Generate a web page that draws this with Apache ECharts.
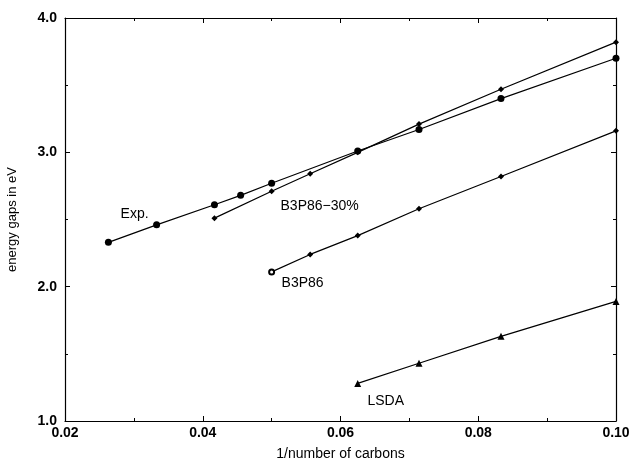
<!DOCTYPE html>
<html>
<head>
<meta charset="UTF-8">
<script src="https://cdn.jsdelivr.net/npm/echarts@6/dist/echarts.min.js"></script>
<style>
  html, body { margin: 0; padding: 0; background: #fff; }
  #chart { width: 633px; height: 461px; }
</style>
</head>
<body>
<div id="chart"></div>
<script>
// x = 1/number of carbons
const expX   = [0.0263, 0.0333, 0.0417, 0.0455, 0.050, 0.0625, 0.0714, 0.0833, 0.100];
const expY   = [2.33, 2.46, 2.61, 2.68, 2.77, 3.01, 3.17, 3.40, 3.70];
const b30X   = [0.0417, 0.050, 0.0556, 0.0625, 0.0714, 0.0833, 0.100];
const b30Y   = [2.51, 2.71, 2.84, 3.00, 3.21, 3.47, 3.82];
const b3X    = [0.050, 0.0556, 0.0625, 0.0714, 0.0833, 0.100];
const b3Y    = [2.11, 2.24, 2.38, 2.58, 2.82, 3.16];
const lsdaX  = [0.0625, 0.0714, 0.0833, 0.100];
const lsdaY  = [1.28, 1.43, 1.63, 1.89];

const chart = echarts.init(document.getElementById('chart'));
const font = '"Liberation Sans", Arial, Helvetica, sans-serif';

function pairs(xs, ys) { return xs.map((x, i) => [x, ys[i]]); }

// put a text label next to one point of a series
function tag(data, idx, text, offset) {
  data[idx] = {
    value: data[idx],
    label: { show: true, formatter: text, offset: offset, position: 'inside',
             color: '#000', fontSize: 14, fontFamily: font }
  };
  return data;
}

const expData  = tag(pairs(expX, expY), 1, 'Exp.', [-22, -11]);
const b30Data  = tag(pairs(b30X, b30Y), 1, 'B3P86\u221230%', [48, 15]);
const b3Data   = tag(pairs(b3X, b3Y), 0, 'B3P86', [31, 11]);
b3Data[0].symbol = 'emptyCircle';
b3Data[0].symbolSize = 5;
const lsdaData = tag(pairs(lsdaX, lsdaY), 0, 'LSDA', [28, 18]);

const lineBase = { type: 'line', lineStyle: { color: '#000', width: 1.2 },
                   itemStyle: { color: '#000' }, animation: false };

const axisCommon = {
  axisLine: { show: true, lineStyle: { color: '#000', width: 1.2 } },
  axisTick: { show: true, inside: true, length: 5, lineStyle: { color: '#000' } },
  minorTick: { show: true, splitNumber: 2, length: 3, lineStyle: { color: '#000' } },
  splitLine: { show: false }
};

chart.setOption({
  backgroundColor: '#fff',
  grid: { left: 65, right: 17, top: 18, bottom: 40, outerBoundsMode: 'none' },
  xAxis: [
    Object.assign({
      type: 'value', min: 0.02, max: 0.10, interval: 0.02,
      name: '1/number of carbons', nameLocation: 'middle', nameGap: 26,
      nameTextStyle: { color: '#000', fontSize: 14, fontFamily: font },
      axisLabel: { color: '#000', fontSize: 14, fontWeight: 'bold', fontFamily: font,
                   margin: 5, formatter: v => v.toFixed(2) }
    }, axisCommon),
    Object.assign({
      type: 'value', min: 0.02, max: 0.10, interval: 0.02, position: 'top',
      axisLabel: { show: false }
    }, axisCommon)
  ],
  yAxis: [
    Object.assign({
      type: 'value', min: 1.0, max: 4.0, interval: 1.0,
      name: 'energy gaps in eV', nameLocation: 'middle', nameGap: 46,
      nameTextStyle: { color: '#000', fontSize: 13, fontFamily: font },
      axisLabel: { color: '#000', fontSize: 14, fontWeight: 'bold', fontFamily: font,
                   margin: 8, formatter: v => v.toFixed(1) }
    }, axisCommon),
    Object.assign({
      type: 'value', min: 1.0, max: 4.0, interval: 1.0, position: 'right',
      axisLabel: { show: false }
    }, axisCommon)
  ],
  series: [
    Object.assign({ name: 'Exp.', data: expData, symbol: 'circle', symbolSize: 7 }, lineBase),
    Object.assign({ name: 'B3P86-30%', data: b30Data, symbol: 'diamond', symbolSize: 6 }, lineBase),
    Object.assign({ name: 'B3P86', data: b3Data, symbol: 'diamond', symbolSize: 6 }, lineBase),
    Object.assign({ name: 'LSDA', data: lsdaData, symbol: 'triangle', symbolSize: 7 }, lineBase)
  ]
});
</script>
</body>
</html>
